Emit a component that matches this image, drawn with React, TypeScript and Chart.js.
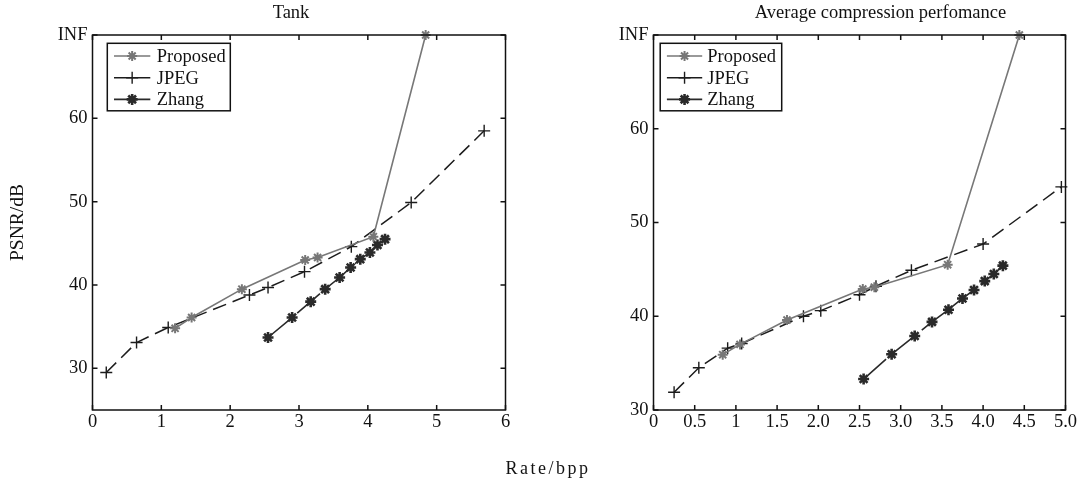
import React, { useEffect, useRef } from 'react';
import { Chart, registerables } from 'chart.js';
import { drawPoint } from 'chart.js/helpers';

Chart.register(...registerables);

const FONT = "'Liberation Serif', 'Times New Roman', serif";

// ---- Data: "Tank" ----
const tankProposedX = [1.2, 1.44, 2.17, 3.09, 3.27, 4.08, 4.84];
const tankProposedY = [34.8, 36.1, 39.5, 43.0, 43.3, 45.8, 70];
const tankJpegX = [0.2, 0.64, 1.1, 2.28, 2.55, 3.08, 3.76, 4.63, 5.69];
const tankJpegY = [29.5, 33.1, 34.9, 38.8, 39.7, 41.6, 44.6, 49.9, 58.5];
const tankZhangX = [2.55, 2.9, 3.17, 3.38, 3.59, 3.75, 3.89, 4.03, 4.14, 4.25];
const tankZhangY = [33.7, 36.1, 38.0, 39.5, 40.9, 42.1, 43.1, 43.9, 44.8, 45.5];

// ---- Data: "Average compression perfomance" ----
const avgProposedX = [0.84, 1.05, 1.62, 2.54, 2.68, 3.57, 4.44];
const avgProposedY = [35.9, 37.0, 39.6, 42.9, 43.1, 45.5, 70];
const avgJpegX = [0.25, 0.55, 0.9, 1.07, 1.82, 2.03, 2.5, 2.7, 3.13, 4.0, 4.95];
const avgJpegY = [31.9, 34.5, 36.6, 37.1, 40.0, 40.6, 42.3, 43.2, 44.9, 47.7, 53.8];
const avgZhangX = [2.55, 2.89, 3.17, 3.38, 3.58, 3.75, 3.89, 4.02, 4.13, 4.24];
const avgZhangY = [33.3, 35.95, 37.9, 39.4, 40.7, 41.9, 42.8, 43.75, 44.5, 45.4];

// ---- Ticks / labels ----
const tankXTicks = [0, 1, 2, 3, 4, 5, 6];
const tankXLabels = ['0', '1', '2', '3', '4', '5', '6'];
const avgXTicks = [0, 0.5, 1, 1.5, 2, 2.5, 3, 3.5, 4, 4.5, 5];
const avgXLabels = ['0', '0.5', '1', '1.5', '2.0', '2.5', '3.0', '3.5', '4.0', '4.5', '5.0'];
const yTicks = [30, 40, 50, 60, 70];
const yTickLabels = ['30', '40', '50', '60', 'INF'];
const seriesNames = ['Proposed', 'JPEG', 'Zhang'];
const tankTitle = 'Tank';
const avgTitle = 'Average compression perfomance';
const yTitle = 'PSNR/dB';
const xTitle = 'Rate/bpp';

const seriesStyles = [
  { color: '#777777', pointStyle: 'star', radius: 5, pointWidth: 2, lineWidth: 1.6, dash: [] as number[] },
  { color: '#1c1c1c', pointStyle: 'cross', radius: 6, pointWidth: 1.4, lineWidth: 1.5, dash: [14, 7] },
  { color: '#2a2a2a', pointStyle: 'star', radius: 5.5, pointWidth: 2.6, lineWidth: 1.6, dash: [30, 8] },
];

function makeDatasets(xsList: number[][], ysList: number[][]) {
  return xsList.map((xs, i) => {
    const st = seriesStyles[i];
    return {
      label: seriesNames[i],
      data: xs.map((x, j) => ({ x, y: ysList[i][j] })),
      showLine: true,
      borderColor: st.color,
      backgroundColor: st.color,
      borderWidth: st.lineWidth,
      borderDash: st.dash,
      pointStyle: st.pointStyle,
      pointRadius: st.radius,
      pointBorderWidth: st.pointWidth,
      pointBorderColor: st.color,
      pointBackgroundColor: st.color,
      tension: 0,
      clip: false as any,
    };
  });
}

const boxPlugin = {
  id: 'matBox',
  afterDraw(chart: any) {
    const { ctx, chartArea: a, scales } = chart;
    const L = 5;
    ctx.save();
    ctx.strokeStyle = '#111';
    ctx.lineWidth = 1.5;
    ctx.setLineDash([]);
    ctx.strokeRect(a.left, a.top, a.right - a.left, a.bottom - a.top);
    ctx.beginPath();
    scales.x.ticks.forEach((t: any) => {
      const px = scales.x.getPixelForValue(t.value);
      ctx.moveTo(px, a.bottom);
      ctx.lineTo(px, a.bottom - L);
      ctx.moveTo(px, a.top);
      ctx.lineTo(px, a.top + L);
    });
    scales.y.ticks.forEach((t: any) => {
      const py = scales.y.getPixelForValue(t.value);
      ctx.moveTo(a.left, py);
      ctx.lineTo(a.left + L, py);
      ctx.moveTo(a.right, py);
      ctx.lineTo(a.right - L, py);
    });
    ctx.stroke();
    ctx.restore();
  },
};

const titlePlugin = {
  id: 'matTitle',
  afterDraw(chart: any, _args: any, opts: any) {
    const { ctx, chartArea: a } = chart;
    ctx.save();
    ctx.fillStyle = '#111';
    ctx.font = `${opts.size}px ${FONT}`;
    ctx.textAlign = 'center';
    ctx.textBaseline = 'middle';
    ctx.fillText(opts.text, (a.left + a.right) / 2 + opts.dx, opts.y);
    ctx.restore();
  },
};

const legendPlugin = {
  id: 'matLegend',
  afterDraw(chart: any, _args: any, opts: any) {
    const { ctx, chartArea: a } = chart;
    const x0 = a.left + opts.dx;
    const y0 = a.top + opts.dy;
    ctx.save();
    ctx.fillStyle = '#fff';
    ctx.fillRect(x0, y0, opts.w, opts.h);
    ctx.strokeStyle = '#111';
    ctx.lineWidth = 1.5;
    ctx.setLineDash([]);
    ctx.strokeRect(x0, y0, opts.w, opts.h);
    chart.data.datasets.forEach((ds: any, i: number) => {
      const cy = y0 + 12.7 + i * 21.7;
      ctx.strokeStyle = ds.borderColor;
      ctx.lineWidth = ds.borderWidth;
      ctx.setLineDash([]);
      ctx.beginPath();
      ctx.moveTo(x0 + 6.7, cy);
      ctx.lineTo(x0 + opts.lineEnd, cy);
      ctx.stroke();
      ctx.lineWidth = ds.pointBorderWidth;
      ctx.fillStyle = ds.pointBackgroundColor;
      drawPoint(ctx, { pointStyle: ds.pointStyle, radius: ds.pointRadius, rotation: 0, borderWidth: ds.pointBorderWidth } as any, x0 + (6.7 + opts.lineEnd) / 2, cy);
      ctx.fillStyle = '#111';
      ctx.font = `18.5px ${FONT}`;
      ctx.textAlign = 'left';
      ctx.textBaseline = 'middle';
      ctx.fillText(ds.label, x0 + opts.textX, cy + 1);
    });
    ctx.restore();
  },
};

function buildConfig(p: {
  datasets: any[];
  xMin: number; xMax: number; xTicks: number[]; xLabels: string[];
  yMin: number; yMax: number;
  yWidth: number; padRight: number; showYTitle: boolean;
  title: string; titleDx: number; titleSize: number;
  legendDx: number; legendW: number; lineEnd: number; textX: number;
}) {
  return {
    type: 'scatter' as const,
    data: { datasets: p.datasets },
    plugins: [boxPlugin, titlePlugin, legendPlugin],
    options: {
      animation: false as const,
      responsive: false,
      devicePixelRatio: 1,
      layout: { padding: { top: 35, right: p.padRight, bottom: 0, left: 0 } },
      plugins: {
        legend: { display: false },
        tooltip: { enabled: false },
        title: { display: false },
        matTitle: { text: p.title, dx: p.titleDx, y: 13, size: p.titleSize },
        matLegend: { dx: p.legendDx, dy: 8.3, w: p.legendW, h: 67.5, lineEnd: p.lineEnd, textX: p.textX },
      },
      scales: {
        x: {
          type: 'linear' as const,
          min: p.xMin,
          max: p.xMax,
          afterBuildTicks: (s: any) => { s.ticks = p.xTicks.map((v) => ({ value: v })); },
          afterFit: (s: any) => { s.height = 72; },
          grid: { display: false, drawTicks: false },
          border: { display: false },
          ticks: {
            autoSkip: false,
            maxRotation: 0,
            padding: 1,
            color: '#111',
            font: { family: FONT, size: 18.5 },
            callback: (v: any) => p.xLabels[p.xTicks.indexOf(Number(v))] ?? '',
          },
        },
        y: {
          type: 'linear' as const,
          min: p.yMin,
          max: p.yMax,
          afterBuildTicks: (s: any) => { s.ticks = yTicks.map((v) => ({ value: v })); },
          afterFit: (s: any) => { s.width = p.yWidth; },
          grid: { display: false, drawTicks: false },
          border: { display: false },
          title: {
            display: p.showYTitle,
            text: yTitle,
            color: '#111',
            font: { family: FONT, size: 19.5, lineHeight: 1.2 },
            padding: { top: 6, bottom: 0 },
          },
          ticks: {
            padding: 5,
            color: '#111',
            font: { family: FONT, size: 18.5 },
            callback: (v: any) => yTickLabels[yTicks.indexOf(Number(v))] ?? '',
          },
        },
      },
    },
  };
}

export default function App() {
  const leftRef = useRef<HTMLCanvasElement | null>(null);
  const rightRef = useRef<HTMLCanvasElement | null>(null);

  useEffect(() => {
    const left = new Chart(leftRef.current as HTMLCanvasElement, buildConfig({
      datasets: makeDatasets([tankProposedX, tankJpegX, tankZhangX], [tankProposedY, tankJpegY, tankZhangY]),
      xMin: 0, xMax: 6, xTicks: tankXTicks, xLabels: tankXLabels,
      yMin: 25, yMax: 70,
      yWidth: 92.5, padRight: 540 - 505.5, showYTitle: true,
      title: tankTitle, titleDx: -8, titleSize: 18.5,
      legendDx: 14.8, legendW: 123, lineEnd: 43, textX: 49.5,
    }) as any);
    const right = new Chart(rightRef.current as HTMLCanvasElement, buildConfig({
      datasets: makeDatasets([avgProposedX, avgJpegX, avgZhangX], [avgProposedY, avgJpegY, avgZhangY]),
      xMin: 0, xMax: 5, xTicks: avgXTicks, xLabels: avgXLabels,
      yMin: 30, yMax: 70,
      yWidth: 653.5 - 540, padRight: 542 - (1065.5 - 540), showYTitle: false,
      title: avgTitle, titleDx: 21, titleSize: 18.5,
      legendDx: 6.7, legendW: 121.5, lineEnd: 42, textX: 47,
    }) as any);
    return () => {
      left.destroy();
      right.destroy();
    };
  }, []);

  return (
    <div style={{ position: 'fixed', left: 0, top: 0, width: 1082, height: 482, background: '#fff', overflow: 'hidden' }}>
      <canvas ref={leftRef} width={540} height={482} style={{ position: 'absolute', left: 0, top: 0, width: 540, height: 482 }} />
      <canvas ref={rightRef} width={542} height={482} style={{ position: 'absolute', left: 540, top: 0, width: 542, height: 482 }} />
      <div style={{ position: 'absolute', left: 0, width: 1096, top: 457, textAlign: 'center', fontFamily: FONT, fontSize: 18, letterSpacing: '2.5px', color: '#111', lineHeight: '22px' }}>
        {xTitle}
      </div>
    </div>
  );
}
